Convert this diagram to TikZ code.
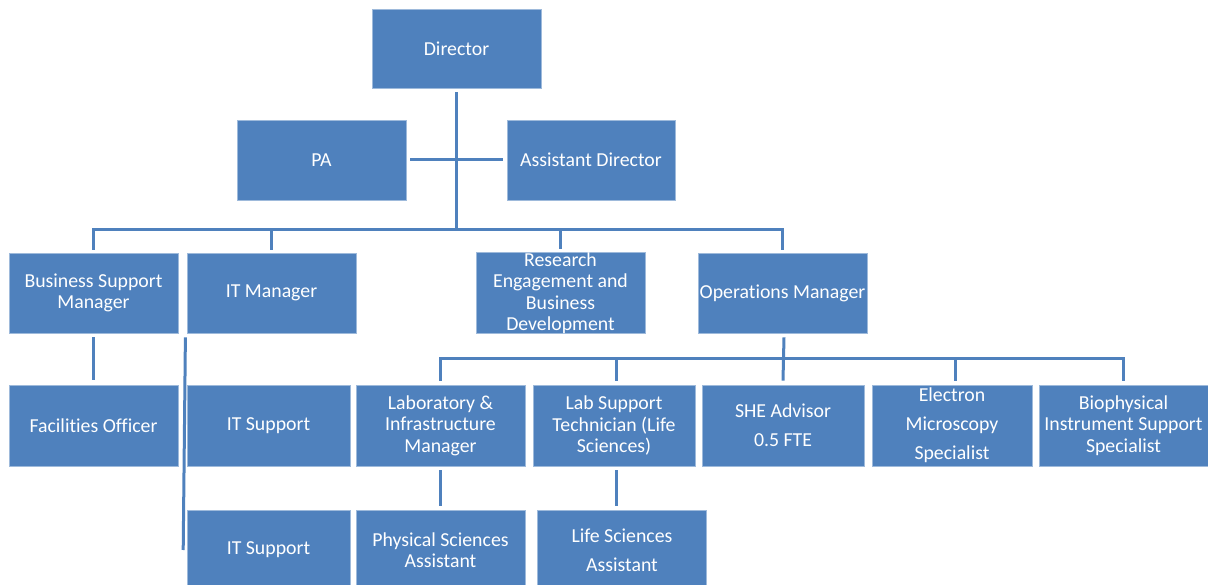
\documentclass[tikz,border=0pt]{standalone}
\usepackage{fontspec}
\setmainfont[Ligatures=NoCommon]{Carlito}
\definecolor{boxblue}{HTML}{4F81BD}
\definecolor{lineblue}{HTML}{4F81BD}
\tikzset{
  box/.style={rectangle, fill=boxblue, draw=boxblue!55!white, line width=0.6pt,
    text=white, align=center, inner sep=0pt,
    font=\fontsize{19.8}{21.5}\selectfont},
  wide/.style={font=\fontsize{19.8}{29}\selectfont},
  conn/.style={draw=lineblue, line width=3pt}
}
\begin{document}
\begin{tikzpicture}[x=1pt,y=-1pt]
\useasboundingbox (0,0) rectangle (1208,585);
% row 0
\node[box, minimum width=169pt, minimum height=79pt] (dir) at (456.5,48.5) {Director};
% row 1
\node[box, minimum width=169pt, minimum height=80pt] (pa) at (321.5,160) {PA};
\node[box, minimum width=168pt, minimum height=80pt] (ad) at (591,160) {Assistant Director};
% row 2
\node[box, minimum width=169pt, minimum height=80pt] (bsm) at (93.5,293) {Business Support\\Manager};
\node[box, minimum width=169pt, minimum height=80pt] (itm) at (271.5,293) {IT Manager};
\node[box, minimum width=169pt, minimum height=80pt] (reb) at (560.5,293) {Research\\Engagement and\\Business\\Development};
\node[box, minimum width=169pt, minimum height=80pt] (ops) at (782.5,293) {Operations Manager};
% row 3
\node[box, minimum width=169pt, minimum height=81pt] (fo) at (93.5,425.5) {Facilities Officer};
\node[box, minimum width=163pt, minimum height=81pt] (its1) at (268.5,425.5) {IT Support};
\node[box, minimum width=169pt, minimum height=81pt] (lim) at (440.5,425.5) {Laboratory \&\\Infrastructure\\Manager};
\node[box, minimum width=162pt, minimum height=81pt] (lst) at (614,425.5) {Lab Support\\Technician (Life\\Sciences)};
\node[box, wide, minimum width=162pt, minimum height=81pt] (she) at (783,425.5) {SHE Advisor\\0.5 FTE};
\node[box, wide, minimum width=160pt, minimum height=81pt] (ems) at (952,425.5) {Electron\\Microscopy\\Specialist};
\node[box, minimum width=169pt, minimum height=81pt] (bis) at (1123.5,425.5) {Biophysical\\Instrument Support\\Specialist};
% row 4
\node[box, minimum width=163pt, minimum height=80pt] (its2) at (268.5,550) {IT Support};
\node[box, minimum width=169pt, minimum height=80pt] (psa) at (440.5,550) {Physical Sciences\\Assistant};
\node[box, wide, minimum width=169pt, minimum height=80pt] (lsa) at (622,550) {Life Sciences\\Assistant};
% connectors
\coordinate (bus) at (456.5,230);
\coordinate (obus) at (784,359);
\draw[conn] ([yshift=-4pt]dir.south) -- (bus);
\draw[conn] ([xshift=4pt]pa.east) -- ([xshift=-4pt]ad.west);
\draw[conn] ([yshift=3pt]bsm.north) |- (bus);
\draw[conn] ([yshift=3pt]itm.north) |- (bus);
\draw[conn] ([yshift=3pt]reb.north) |- (bus);
\draw[conn] ([yshift=3pt]ops.north) |- (bus);
\draw[conn] ([xshift=1.5pt,yshift=-4pt]ops.south) -- ([yshift=4pt]she.north);
\draw[conn] ([yshift=4pt]lim.north) |- (obus);
\draw[conn] ([xshift=2pt,yshift=4pt]lst.north) |- (obus);
\draw[conn] ([xshift=3pt,yshift=4pt]ems.north) |- (obus);
\draw[conn] ([yshift=4pt]bis.north) |- (obus);
\draw[conn] ([yshift=-4pt]bsm.south) -- ([yshift=5pt]fo.north);
\draw[conn] ([xshift=-1.3pt,yshift=-4pt]itm.south west) -- ([xshift=-3.5pt]its2.west);
\draw[conn] ([yshift=-4pt]lim.south) -- ([yshift=4pt]psa.north);
\draw[conn] ([xshift=2pt,yshift=-4pt]lst.south) -- ([xshift=-6pt,yshift=4pt]lsa.north);
\end{tikzpicture}
\end{document}
